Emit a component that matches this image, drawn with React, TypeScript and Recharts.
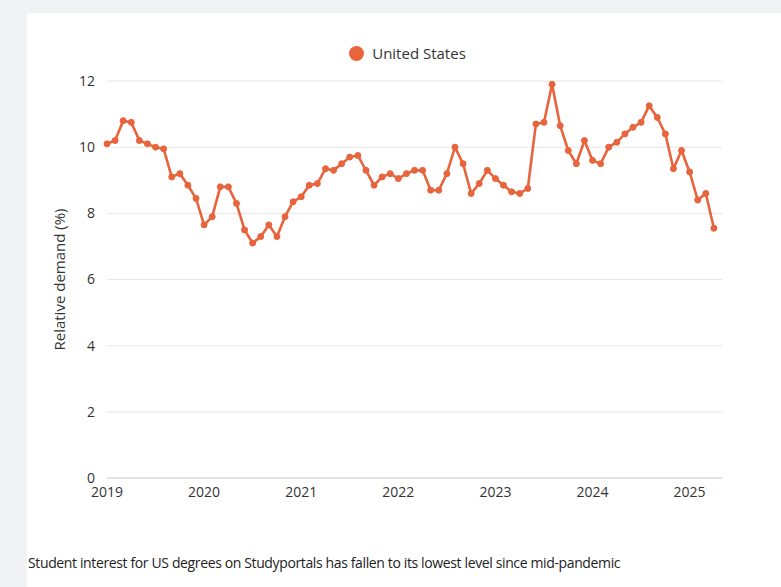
import { LineChart, Line, XAxis, YAxis, CartesianGrid, Legend } from 'recharts';

/* Monthly relative demand for US degrees, Jan 2019 – Apr 2025 */
const yearLabels = ['2019', '2020', '2021', '2022', '2023', '2024', '2025'];
const yTicks = [0, 2, 4, 6, 8, 10, 12];

const demand2019 = [10.1, 10.2, 10.8, 10.75, 10.2, 10.1, 10.0, 9.95, 9.1, 9.2, 8.85, 8.45];
const demand2020 = [7.65, 7.9, 8.8, 8.8, 8.3, 7.5, 7.1, 7.3, 7.65, 7.3, 7.9, 8.35];
const demand2021 = [8.5, 8.85, 8.9, 9.35, 9.3, 9.5, 9.7, 9.75, 9.3, 8.85, 9.1, 9.2];
const demand2022 = [9.05, 9.2, 9.3, 9.3, 8.7, 8.7, 9.2, 10.0, 9.5, 8.6, 8.9, 9.3];
const demand2023 = [9.05, 8.85, 8.65, 8.6, 8.75, 10.7, 10.75, 11.9, 10.65, 9.9, 9.5, 10.2];
const demand2024 = [9.6, 9.5, 10.0, 10.15, 10.4, 10.6, 10.75, 11.25, 10.9, 10.4, 9.35, 9.9];
const demand2025 = [9.25, 8.4, 8.6, 7.55];

const demand = [
  ...demand2019, ...demand2020, ...demand2021, ...demand2022,
  ...demand2023, ...demand2024, ...demand2025,
];

const data = demand.map((v, i) => ({ t: i, value: v }));

const ORANGE = '#e8643c';
const FONT = '"Open Sans", sans-serif';

function LegendContent() {
  return (
    <div style={{ height: 24, display: 'flex', alignItems: 'center', justifyContent: 'center', fontFamily: FONT, fontSize: 15, color: '#333' }}>
      <span style={{ width: 15, height: 15, borderRadius: '50%', background: ORANGE, display: 'inline-block', marginRight: 8 }} />
      United States
    </div>
  );
}

export default function App() {
  return (
    <div style={{ position: 'fixed', left: 0, top: 0, width: 781, height: 587, background: '#f1f2f5', overflow: 'hidden' }}>
      <div style={{ position: 'absolute', left: 27, top: 13, right: 0, bottom: 0, background: '#fff' }} />
      <div style={{ position: 'absolute', left: 0, top: 0 }}>
        <LineChart width={781} height={520} data={data} margin={{ top: 57, right: 59, left: 13, bottom: 12 }}>
          <CartesianGrid vertical={false} stroke="#e6e6e6" />
          <Legend verticalAlign="top" content={<LegendContent />} wrapperStyle={{ top: 41, left: 100, width: 615 }} />
          <XAxis
            type="number"
            dataKey="t"
            domain={[0, 76]}
            ticks={[0, 12, 24, 36, 48, 60, 72]}
            tickFormatter={(t) => yearLabels[t / 12]}
            tickLine={false}
            axisLine={{ stroke: '#d0d0d0' }}
            tickMargin={3}
            tick={{ fill: '#333', fontSize: 14, fontFamily: FONT }}
          />
          <YAxis
            domain={[0, 12]}
            ticks={yTicks}
            width={94}
            tickLine={false}
            axisLine={false}
            tickMargin={6}
            tick={{ fill: '#333', fontSize: 14, fontFamily: FONT }}
            label={{ value: 'Relative demand (%)', angle: -90, position: 'center', fill: '#333', fontSize: 15, fontFamily: FONT }}
          />
          <Line
            type="linear"
            dataKey="value"
            name="United States"
            stroke={ORANGE}
            strokeWidth={2.6}
            dot={{ r: 3, fill: ORANGE, stroke: ORANGE, strokeWidth: 1 }}
            isAnimationActive={false}
          />
        </LineChart>
      </div>
      <div style={{ position: 'absolute', left: 28, top: 553, fontFamily: FONT, fontSize: 14, color: '#222', letterSpacing: -0.37, whiteSpace: 'nowrap' }}>
        Student interest for US degrees on Studyportals has fallen to its lowest level since mid-pandemic
      </div>
    </div>
  );
}
